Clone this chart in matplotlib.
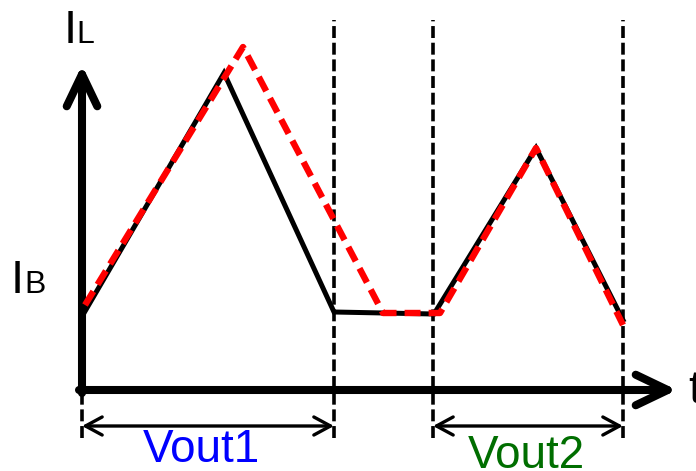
import matplotlib.pyplot as plt

plt.rcParams["font.family"] = ["Liberation Sans", "DejaVu Sans"]
plt.rcParams["lines.scale_dashes"] = False

# inductor current, time measured from the axis origin
t_solid = [2, 142, 252, 352, 454, 541]
i_solid = [77, 317, 78, 76, 242, 70]

t_dashed = [3, 161, 301, 358, 454, 541]
i_dashed = [85, 343, 77, 77, 242, 65]

# interval boundaries
t_marks = [0, 252, 351, 541]
mark_top = 370
mark_bottom = -48

# output intervals
intervals = [(0, 252, "Vout1", "#0000FF", 119, -72), (351, 541, "Vout2", "#006E00", 444, -78)]
interval_level = -36

axis_t_end = 595
axis_i_end = 325


def main() -> None:
    fig = plt.figure(figsize=(6.96, 4.71), dpi=100)
    ax = fig.add_axes([0, 0, 1, 1])
    ax.set_xlim(-82, 614)
    ax.set_ylim(-81, 390)
    ax.axis("off")

    # vertical dashed boundaries
    for k, t in enumerate(t_marks):
        top = 0 if k == 0 else mark_top
        ax.plot([t, t], [mark_bottom, top], color="black", lw=2.6,
                linestyle=(0, (8.6, 3.4)), zorder=1)

    # axes with arrows
    axis_props = dict(arrowstyle="->,head_length=23,head_width=11", lw=5.8,
                      color="black", mutation_scale=1, shrinkA=0, shrinkB=0,
                      capstyle="round", joinstyle="round")
    ax.annotate("", xy=(0, axis_i_end), xytext=(0, -3), arrowprops=axis_props, zorder=3)
    ax.annotate("", xy=(axis_t_end, 0), xytext=(-3, 0), arrowprops=axis_props, zorder=3)

    ax.plot(t_solid, i_solid, color="black", lw=3.6, solid_joinstyle="miter", zorder=4)
    ax.plot(t_dashed, i_dashed, color="#FF0000", lw=4.6, linestyle=(0, (11.5, 5.8)),
            dash_capstyle="butt", zorder=5)

    # interval arrows and labels
    span_props = dict(arrowstyle="<->,head_length=12,head_width=6.5", lw=2.4,
                      color="black", mutation_scale=1, shrinkA=0, shrinkB=0)
    for start, end, label, color, lx, ly in intervals:
        ax.annotate("", xy=(end, interval_level), xytext=(start, interval_level),
                    arrowprops=span_props, zorder=2)
        ax.text(lx, ly, label, color=color, fontsize=33, ha="center", va="baseline")

    # axis labels
    ax.text(-18.5, 347, "I", fontsize=34, va="baseline")
    ax.text(-6, 347, "L", fontsize=23, va="baseline")
    ax.text(-71.5, 97, "I", fontsize=34, va="baseline")
    ax.text(-57.3, 97, "B", fontsize=23, va="baseline")
    ax.text(606, -13, "t", fontsize=34, va="baseline")

    fig.savefig("out.png", dpi=100)


if __name__ == "__main__":
    main()
